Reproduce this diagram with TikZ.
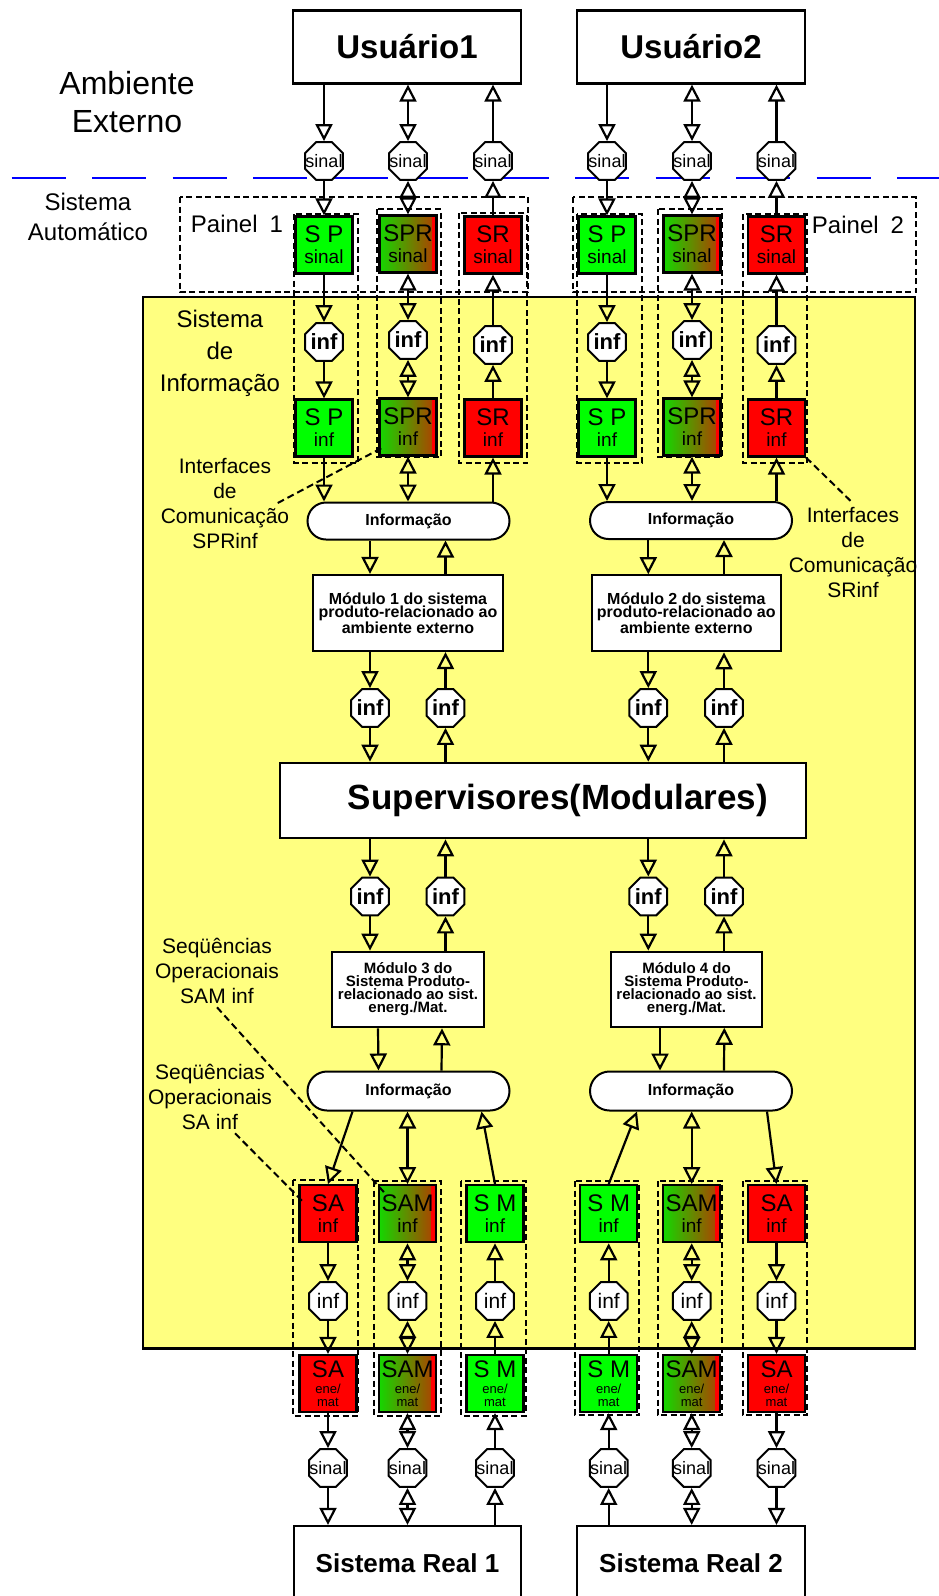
\documentclass[tikz,border=0pt]{standalone}
\usepackage{fontspec}
\setmainfont{Liberation Sans}
\usetikzlibrary{arrows.meta, positioning, shapes.geometric, shapes.misc, calc}
\definecolor{amarelo}{RGB}{255,255,128}
\definecolor{verde}{RGB}{0,255,0}
\definecolor{vermelho}{RGB}{255,0,0}
\definecolor{azul}{RGB}{0,0,255}
\definecolor{verdeesc}{RGB}{20,215,0}
\definecolor{marrom}{RGB}{180,60,0}
\tikzset{
  usuario/.style={
    rectangle,
    draw,
    fill=white,
    line width=2.2pt,
    minimum width=228pt,
    minimum height=73pt,
    font=\bfseries\fontsize{33}{36}\selectfont
  },
  sistreal/.style={
    usuario,
    minimum height=74pt,
    font=\bfseries\fontsize{26}{30}\selectfont
  },
  caixaverde/.style={
    rectangle,
    draw,
    line width=2.2pt,
    fill=verde,
    minimum size=57pt,
    inner sep=0pt,
    align=center,
    font=\fontsize{24}{21}\selectfont
  },
  caixavermelha/.style={caixaverde, fill=vermelho},
  caixagradiente/.style={
    caixaverde,
    left color=verdeesc,
    right color=marrom,
    path picture={\fill[vermelho] ([xshift=-5pt]path picture bounding box.north east) rectangle (path picture bounding box.south east);}
  },
  oct/.style={
    regular polygon,
    regular polygon sides=8,
    draw,
    fill=white,
    line width=2pt,
    minimum size=41pt,
    inner sep=0pt
  },
  octsinal/.style={oct, font=\fontsize{18}{18}\selectfont},
  octinf/.style={oct, font=\bfseries\fontsize{22}{22}\selectfont},
  octinfn/.style={oct, font=\fontsize{21}{21}\selectfont},
  informacao/.style={
    rounded rectangle,
    draw,
    fill=white,
    line width=2pt,
    minimum width=202pt,
    minimum height=37pt,
    inner sep=0pt,
    font=\bfseries\fontsize{16}{16}\selectfont
  },
  modulo/.style={
    rectangle,
    draw,
    fill=white,
    line width=2.2pt,
    align=center,
    inner sep=2pt,
    font=\bfseries\fontsize{16}{13}\selectfont
  },
  rotulo/.style={align=center, font=\fontsize{21}{25}\selectfont},
  painel/.style={draw, dashed, line width=1.8pt, dash pattern=on 6pt off 3.5pt},
  guia/.style={dashed, line width=2pt, dash pattern=on 7pt off 4pt},
  seta/.style={-{Triangle[open, length=17pt, width=17pt]}, line width=2.2pt},
  seta2/.style={{Triangle[open, length=17pt, width=17pt]}-{Triangle[open, length=17pt, width=17pt]}, line width=2.2pt}
}
\begin{document}
\begin{tikzpicture}[x=1pt, y=-1pt]
  \useasboundingbox (0,0) rectangle (939,1596);

  % fundo: paineis, sistema de informacao, colunas
  \draw[painel] (180,197) rectangle (527.7,292.3);
  \draw[painel] (572.7,197.3) rectangle (916,292.3);
  \draw[fill=amarelo, line width=2.2pt] (142.7,296.7) rectangle (915,1348.5);
  \draw[painel] (294.3,214) rectangle (358.3,462.7);
  \draw[painel] (376.7,209.3) rectangle (441,457.3);
  \draw[painel] (459,213.3) rectangle (526.7,463.3);
  \draw[painel] (577.3,214) rectangle (642.3,462.7);
  \draw[painel] (657.7,209.3) rectangle (722.3,457.3);
  \draw[painel] (742.7,214) rectangle (807.3,462.7);
  \draw[painel] (293.3,1180) rectangle (358.3,1415.7);
  \draw[painel] (374.3,1181) rectangle (441,1415.7);
  \draw[painel] (461,1181) rectangle (525.7,1415.7);
  \draw[painel] (575,1181) rectangle (639,1415);
  \draw[painel] (657.7,1181) rectangle (722.3,1415);
  \draw[painel] (742.7,1181) rectangle (807.3,1415);
  \draw[azul, line width=2.4pt, dash pattern=on 54pt off 26.5pt] (11.7,178) -- (939,178);

  % textos
  \node[rotulo, font=\fontsize{32}{38}\selectfont] (amb) at (127,102) {Ambiente\\Externo};
  \node[rotulo, font=\fontsize{24}{30}\selectfont] (auto) at (88,217) {Sistema\\Autom\'atico};
  \node[font=\fontsize{24}{24}\selectfont] (p1) at (237,224) {Painel\enspace1};
  \node[font=\fontsize{24}{24}\selectfont] (p2) at (858,225) {Painel\enspace2};
  \node[rotulo, font=\fontsize{24}{32}\selectfont] (si) at (220,353) {Sistema\\de\\Informa\c{c}\~ao};
  \node[rotulo] (itf1) at (225,503) {Interfaces\\de\\Comunica\c{c}\~ao\\SPRinf};
  \node[rotulo] (itf2) at (853,552) {Interfaces\\de\\Comunica\c{c}\~ao\\SRinf};
  \node[rotulo] (seq1) at (217,971) {Seq\"u\^encias\\Operacionais\\SAM inf};
  \node[rotulo] (seq2) at (210,1097) {Seq\"u\^encias\\Operacionais\\SA inf};

  % usuarios
  \node[usuario] (u1) at (407,47) {Usu\'ario1};
  \node[usuario] (u2) at (691,47) {Usu\'ario2};
  \node[octsinal] (s1) at (324,161) {\makebox[0pt]{sinal}};
  \node[octsinal] (s2) at (408,161) {\makebox[0pt]{sinal}};
  \node[octsinal] (s3) at (493,161) {\makebox[0pt]{sinal}};
  \node[octsinal] (s4) at (607,161) {\makebox[0pt]{sinal}};
  \node[octsinal] (s5) at (692,161) {\makebox[0pt]{sinal}};
  \node[octsinal] (s6) at (776.5,161) {\makebox[0pt]{sinal}};

  % interfaces de sinal e de informacao (paineis)
  \node[caixaverde] (sps1) at (324,245) {S P\\{\fontsize{19}{21}\selectfont sinal}};
  \node[caixagradiente] (sprs1) at (408,244) {SPR\\{\fontsize{19}{21}\selectfont sinal}};
  \node[caixavermelha] (srs1) at (493,245) {SR\\{\fontsize{19}{21}\selectfont sinal}};
  \node[caixaverde] (sps2) at (607,245) {S P\\{\fontsize{19}{21}\selectfont sinal}};
  \node[caixagradiente] (sprs2) at (692,244) {SPR\\{\fontsize{19}{21}\selectfont sinal}};
  \node[caixavermelha] (srs2) at (776.5,245) {SR\\{\fontsize{19}{21}\selectfont sinal}};
  \node[octinf] (ia1) at (324,342) {\makebox[0pt]{inf}};
  \node[octinf] (ia2) at (408,340) {\makebox[0pt]{inf}};
  \node[octinf] (ia3) at (493,345) {\makebox[0pt]{inf}};
  \node[octinf] (ia4) at (607,342) {\makebox[0pt]{inf}};
  \node[octinf] (ia5) at (692,340) {\makebox[0pt]{inf}};
  \node[octinf] (ia6) at (776.5,345) {\makebox[0pt]{inf}};
  \node[caixaverde] (spi1) at (324,428) {S P\\{\fontsize{19}{21}\selectfont inf}};
  \node[caixagradiente] (spri1) at (408,427) {SPR\\{\fontsize{19}{21}\selectfont inf}};
  \node[caixavermelha] (sri1) at (493,428) {SR\\{\fontsize{19}{21}\selectfont inf}};
  \node[caixaverde] (spi2) at (607,428) {S P\\{\fontsize{19}{21}\selectfont inf}};
  \node[caixagradiente] (spri2) at (692,427) {SPR\\{\fontsize{19}{21}\selectfont inf}};
  \node[caixavermelha] (sri2) at (776.5,428) {SR\\{\fontsize{19}{21}\selectfont inf}};

  % modulos e supervisores
  \node[informacao] (inf1) at (408.5,521) {Informa\c{c}\~ao};
  \node[informacao] (inf2) at (691,520.5) {Informa\c{c}\~ao};
  \node[modulo, minimum width=190pt, minimum height=76pt] (m1) at (408,613) {M\'odulo 1 do sistema\\produto-relacionado ao\\ambiente externo};
  \node[modulo, minimum width=189pt, minimum height=76pt] (m2) at (686.3,613.3) {M\'odulo 2 do sistema\\produto-relacionado ao\\ambiente externo};
  \node[octinf] (ib1) at (370,708) {\makebox[0pt]{inf}};
  \node[octinf] (ib2) at (445.5,708) {\makebox[0pt]{inf}};
  \node[octinf] (ib3) at (648.3,708) {\makebox[0pt]{inf}};
  \node[octinf] (ib4) at (724,708) {\makebox[0pt]{inf}};
  \node[rectangle, draw, fill=white, line width=2.2pt, minimum width=526pt, minimum height=75.5pt,
        font=\bfseries\fontsize{35}{38}\selectfont] (sup) at (543,800.5) {\hspace*{30pt}Supervisores(Modulares)};
  \node[octinf] (ic1) at (370,896.5) {\makebox[0pt]{inf}};
  \node[octinf] (ic2) at (445.5,896.5) {\makebox[0pt]{inf}};
  \node[octinf] (ic3) at (648.3,896.5) {\makebox[0pt]{inf}};
  \node[octinf] (ic4) at (724,896.5) {\makebox[0pt]{inf}};
  \node[modulo, font=\bfseries\fontsize{15}{13}\selectfont, minimum width=151.6pt, minimum height=75.6pt] (m3) at (408,989.5) {M\'odulo 3 do\\Sistema Produto-\\relacionado ao sist.\\energ./Mat.};
  \node[modulo, font=\bfseries\fontsize{15}{13}\selectfont, minimum width=151.6pt, minimum height=75pt] (m4) at (686.5,989.2) {M\'odulo 4 do\\Sistema Produto-\\relacionado ao sist.\\energ./Mat.};
  \node[informacao, minimum height=39pt] (inf3) at (408.5,1091) {Informa\c{c}\~ao};
  \node[informacao, minimum height=39pt] (inf4) at (691,1091) {Informa\c{c}\~ao};

  % interfaces de atuacao e medicao
  \node[caixavermelha] (sai1) at (328,1213.7) {SA\\{\fontsize{19}{21}\selectfont inf}};
  \node[caixagradiente] (sami1) at (407.5,1213.7) {SAM\\{\fontsize{19}{21}\selectfont inf}};
  \node[caixaverde] (smi1) at (495,1213.7) {S M\\{\fontsize{19}{21}\selectfont inf}};
  \node[caixaverde] (smi2) at (608.7,1213.7) {S M\\{\fontsize{19}{21}\selectfont inf}};
  \node[caixagradiente] (sami2) at (691.7,1213.7) {SAM\\{\fontsize{19}{21}\selectfont inf}};
  \node[caixavermelha] (sai2) at (776.5,1213.7) {SA\\{\fontsize{19}{21}\selectfont inf}};
  \node[octinfn] (id1) at (328,1301) {\makebox[0pt]{inf}};
  \node[octinfn] (id2) at (407.5,1301) {\makebox[0pt]{inf}};
  \node[octinfn] (id3) at (495,1301) {\makebox[0pt]{inf}};
  \node[octinfn] (id4) at (608.7,1301) {\makebox[0pt]{inf}};
  \node[octinfn] (id5) at (691.7,1301) {\makebox[0pt]{inf}};
  \node[octinfn] (id6) at (776.5,1301) {\makebox[0pt]{inf}};
  \node[caixavermelha, font=\fontsize{24}{13}\selectfont] (sae1) at (328,1383.5) {SA\\[2.5pt]{\fontsize{13}{12}\selectfont ene/}\\{\fontsize{13}{12}\selectfont mat}};
  \node[caixagradiente, font=\fontsize{24}{13}\selectfont] (same1) at (407.5,1383.5) {SAM\\[2.5pt]{\fontsize{13}{12}\selectfont ene/}\\{\fontsize{13}{12}\selectfont mat}};
  \node[caixaverde, font=\fontsize{24}{13}\selectfont] (sme1) at (495,1383.5) {S M\\[2.5pt]{\fontsize{13}{12}\selectfont ene/}\\{\fontsize{13}{12}\selectfont mat}};
  \node[caixaverde, font=\fontsize{24}{13}\selectfont] (sme2) at (608.7,1383.5) {S M\\[2.5pt]{\fontsize{13}{12}\selectfont ene/}\\{\fontsize{13}{12}\selectfont mat}};
  \node[caixagradiente, font=\fontsize{24}{13}\selectfont] (same2) at (691.7,1383.5) {SAM\\[2.5pt]{\fontsize{13}{12}\selectfont ene/}\\{\fontsize{13}{12}\selectfont mat}};
  \node[caixavermelha, font=\fontsize{24}{13}\selectfont] (sae2) at (776.5,1383.5) {SA\\[2.5pt]{\fontsize{13}{12}\selectfont ene/}\\{\fontsize{13}{12}\selectfont mat}};
  \node[octsinal] (se1) at (328,1468) {\makebox[0pt]{sinal}};
  \node[octsinal] (se2) at (407.5,1468) {\makebox[0pt]{sinal}};
  \node[octsinal] (se3) at (495,1468) {\makebox[0pt]{sinal}};
  \node[octsinal] (se4) at (608.7,1468) {\makebox[0pt]{sinal}};
  \node[octsinal] (se5) at (691.7,1468) {\makebox[0pt]{sinal}};
  \node[octsinal] (se6) at (776.5,1468) {\makebox[0pt]{sinal}};
  \node[sistreal, minimum width=227pt] (sr1) at (407.5,1563) {Sistema Real 1};
  \node[sistreal, minimum width=228pt] (sr2) at (691,1563) {Sistema Real 2};

  % painel 1
  \draw[seta] (u1.south -| s1) -- (s1.north);
  \draw[seta2] (u1.south -| s2) -- (s2.north);
  \draw[seta] (s3.north) -- (u1.south -| s3);
  \draw[seta] (s1.south) -- (sps1.north);
  \draw[seta2] (s2.south) -- (sprs1.north);
  \draw[seta] (srs1.north) -- (s3.south);
  \draw[seta] (sps1.south) -- (ia1.north);
  \draw[seta2] (sprs1.south) -- (ia2.north);
  \draw[seta] (ia3.north) -- (srs1.south);
  \draw[seta] (ia1.south) -- (spi1.north);
  \draw[seta2] (ia2.south) -- (spri1.north);
  \draw[seta] (sri1.north) -- (ia3.south);
  \draw[seta] (spi1.south) -- (spi1.south |- inf1.north);
  \draw[seta2] (spri1.south) -- (spri1.south |- inf1.north);
  \draw[seta] (sri1.south |- inf1.north) -- (sri1.south);

  % painel 2
  \draw[seta] (u2.south -| s4) -- (s4.north);
  \draw[seta2] (u2.south -| s5) -- (s5.north);
  \draw[seta] (s6.north) -- (u2.south -| s6);
  \draw[seta] (s4.south) -- (sps2.north);
  \draw[seta2] (s5.south) -- (sprs2.north);
  \draw[seta] (srs2.north) -- (s6.south);
  \draw[seta] (sps2.south) -- (ia4.north);
  \draw[seta2] (sprs2.south) -- (ia5.north);
  \draw[seta] (ia6.north) -- (srs2.south);
  \draw[seta] (ia4.south) -- (spi2.north);
  \draw[seta2] (ia5.south) -- (spri2.north);
  \draw[seta] (sri2.north) -- (ia6.south);
  \draw[seta] (spi2.south) -- (spi2.south |- inf2.north);
  \draw[seta2] (spri2.south) -- (spri2.south |- inf2.north);
  \draw[seta] (sri2.south |- inf2.north) -- (sri2.south);

  % modulos 1 e 2 e supervisores
  \draw[seta] (inf1.south -| ib1) -- (m1.north -| ib1);
  \draw[seta] (m1.north -| ib2) -- (inf1.south -| ib2);
  \draw[seta] (m1.south -| ib1) -- (ib1.north);
  \draw[seta] (ib2.north) -- (m1.south -| ib2);
  \draw[seta] (ib1.south) -- (sup.north -| ib1);
  \draw[seta] (sup.north -| ib2) -- (ib2.south);
  \draw[seta] (inf2.south -| ib3) -- (m2.north -| ib3);
  \draw[seta] (m2.north -| ib4) -- (inf2.south -| ib4);
  \draw[seta] (m2.south -| ib3) -- (ib3.north);
  \draw[seta] (ib4.north) -- (m2.south -| ib4);
  \draw[seta] (ib3.south) -- (sup.north -| ib3);
  \draw[seta] (sup.north -| ib4) -- (ib4.south);

  % modulos 3 e 4
  \draw[seta] (sup.south -| ic1) -- (ic1.north);
  \draw[seta] (ic2.north) -- (sup.south -| ic2);
  \draw[seta] (ic1.south) -- (m3.north -| ic1);
  \draw[seta] (m3.north -| ic2) -- (ic2.south);
  \draw[seta] ([xshift=-30pt]m3.south) -- ([xshift=-30pt]inf3.north);
  \draw[seta] ([xshift=33pt]inf3.north) -- ([xshift=34pt]m3.south);
  \draw[seta] (sup.south -| ic3) -- (ic3.north);
  \draw[seta] (ic4.north) -- (sup.south -| ic4);
  \draw[seta] (ic3.south) -- (m4.north -| ic3);
  \draw[seta] (m4.north -| ic4) -- (ic4.south);
  \draw[seta] ([xshift=-26.5pt]m4.south) -- ([xshift=-31pt]inf4.north);
  \draw[seta] ([xshift=33pt]inf4.north) -- ([xshift=37.8pt]m4.south);

  % sistema real 1
  \draw[seta] ([xshift=-56pt]inf3.south) -- (sai1.north);
  \draw[seta2] (inf3.south -| sami1) -- (sami1.north);
  \draw[seta] (smi1.north) -- ([xshift=73pt]inf3.south);
  \draw[seta] (sai1.south) -- (id1.north);
  \draw[seta2] (sami1.south) -- (id2.north);
  \draw[seta] (id3.north) -- (smi1.south);
  \draw[seta] (id1.south) -- (sae1.north);
  \draw[seta2] (id2.south) -- (same1.north);
  \draw[seta] (sme1.north) -- (id3.south);
  \draw[seta] (sae1.south) -- (se1.north);
  \draw[seta2] (same1.south) -- (se2.north);
  \draw[seta] (se3.north) -- (sme1.south);
  \draw[seta] (se1.south) -- (sr1.north -| se1);
  \draw[seta2] (se2.south) -- (sr1.north -| se2);
  \draw[seta] (sr1.north -| se3) -- (se3.south);

  % sistema real 2
  \draw[seta] (smi2.north) -- ([xshift=-54pt]inf4.south);
  \draw[seta2] (inf4.south -| sami2) -- (sami2.north);
  \draw[seta] ([xshift=76pt]inf4.south) -- (sai2.north);
  \draw[seta] (id4.north) -- (smi2.south);
  \draw[seta2] (sami2.south) -- (id5.north);
  \draw[seta] (sai2.south) -- (id6.north);
  \draw[seta] (sme2.north) -- (id4.south);
  \draw[seta2] (id5.south) -- (same2.north);
  \draw[seta] (id6.south) -- (sae2.north);
  \draw[seta] (se4.north) -- (sme2.south);
  \draw[seta2] (same2.south) -- (se5.north);
  \draw[seta] (sae2.south) -- (se6.north);
  \draw[seta] (sr2.north -| se4) -- (se4.south);
  \draw[seta2] (se5.south) -- (sr2.north -| se5);
  \draw[seta] (se6.south) -- (sr2.north -| se6);

  % linhas de chamada
  \draw[guia] ([xshift=-15pt]itf1.east) -- ([shift={(6,-10)}]spri1.south west);
  \draw[guia] (sri2.south east) -- (itf2.north);
  \draw[guia] (seq1.south) -- ([shift={(6,8)}]sami1.north west);
  \draw[guia] ([xshift=25pt]seq2.south) -- ([shift={(4,17)}]sai1.north west);
\end{tikzpicture}
\end{document}
